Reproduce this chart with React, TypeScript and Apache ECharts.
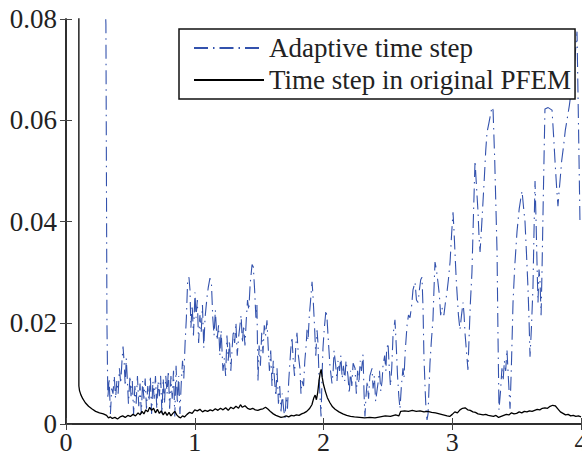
import React, { useEffect, useRef } from "react";
import * as echarts from "echarts";

const xTicks = [0, 1, 2, 3, 4];
const yTicks = [0, 0.02, 0.04, 0.06, 0.08];
const seriesNames = ["Adaptive time step", "Time step in original PFEM"];

const adaptive: [number, number][] = [
  [0.295, 0.09], [0.31, 0.079], [0.318, 0.02], [0.325, 0.005], [0.335, 0.009], [0.345, 0.002], [0.355, 0.007],
  [0.365, 0.006], [0.375, 0.0095], [0.385, 0.005], [0.395, 0.0085], [0.405, 0.006], [0.415, 0.011], [0.425, 0.008],
  [0.435, 0.0125], [0.443, 0.0153], [0.452, 0.012], [0.46, 0.0075], [0.468, 0.013], [0.476, 0.009], [0.485, 0.004],
  [0.497, 0.0095], [0.505, 0.0055], [0.515, 0.0085], [0.525, 0.002], [0.535, 0.0075], [0.545, 0.004], [0.555, 0.0095],
  [0.565, 0.0035], [0.575, 0.008], [0.585, 0.002], [0.595, 0.0085], [0.605, 0.005], [0.615, 0.009], [0.625, 0.003],
  [0.635, 0.0075], [0.645, 0.0045], [0.655, 0.0095], [0.665, 0.002], [0.675, 0.0085], [0.685, 0.005], [0.695, 0.0095],
  [0.705, 0.003], [0.715, 0.0085], [0.725, 0.0055], [0.735, 0.0095], [0.745, 0.002], [0.755, 0.009], [0.765, 0.004],
  [0.775, 0.0095], [0.785, 0.006], [0.795, 0.0105], [0.805, 0.003], [0.815, 0.0095], [0.825, 0.005], [0.835, 0.0105],
  [0.845, 0.0015], [0.855, 0.0115], [0.865, 0.004], [0.875, 0.0095], [0.885, 0.002], [0.895, 0.008], [0.905, 0.0125],
  [0.915, 0.009], [0.925, 0.016], [0.935, 0.021], [0.945, 0.0285], [0.955, 0.029], [0.963, 0.0265], [0.97, 0.019],
  [0.98, 0.0235], [0.99, 0.0175], [1.002, 0.026], [1.01, 0.021], [1.02, 0.0245], [1.03, 0.016], [1.04, 0.0215],
  [1.05, 0.018], [1.06, 0.0235], [1.07, 0.015], [1.08, 0.021], [1.095, 0.025], [1.105, 0.027], [1.118, 0.0288],
  [1.13, 0.0275], [1.14, 0.021], [1.15, 0.0175], [1.16, 0.0225], [1.173, 0.0165], [1.185, 0.0195], [1.195, 0.0135],
  [1.205, 0.0185], [1.219, 0.0105], [1.23, 0.013], [1.24, 0.0095], [1.25, 0.0175], [1.26, 0.0125], [1.27, 0.0165],
  [1.28, 0.0105], [1.289, 0.0145], [1.3, 0.0185], [1.31, 0.016], [1.32, 0.02], [1.33, 0.0135], [1.34, 0.017],
  [1.351, 0.0195], [1.36, 0.0215], [1.37, 0.016], [1.38, 0.0195], [1.39, 0.0155], [1.4, 0.0205], [1.41, 0.0245],
  [1.42, 0.0225], [1.43, 0.0275], [1.445, 0.0315], [1.455, 0.031], [1.465, 0.0265], [1.475, 0.021], [1.483, 0.0235],
  [1.491, 0.0085], [1.5, 0.0155], [1.51, 0.0115], [1.52, 0.018], [1.53, 0.014], [1.54, 0.0195], [1.55, 0.0175],
  [1.561, 0.0205], [1.57, 0.0155], [1.58, 0.0105], [1.59, 0.0145], [1.6, 0.0075], [1.61, 0.0125], [1.62, 0.0085],
  [1.63, 0.0055], [1.639, 0.011], [1.65, 0.004], [1.66, 0.0075], [1.67, 0.0025], [1.68, 0.006], [1.69, 0.003],
  [1.701, 0.0012], [1.71, 0.0055], [1.72, 0.003], [1.73, 0.0085], [1.745, 0.0145], [1.755, 0.0172], [1.765, 0.0125],
  [1.775, 0.0095], [1.785, 0.0155], [1.794, 0.018], [1.805, 0.0135], [1.817, 0.011], [1.825, 0.006], [1.833, 0.0085],
  [1.845, 0.0075], [1.855, 0.0125], [1.865, 0.0155], [1.872, 0.0186], [1.88, 0.0165], [1.89, 0.0215], [1.9, 0.0245],
  [1.911, 0.0281], [1.918, 0.0255], [1.93, 0.0195], [1.94, 0.0135], [1.95, 0.0185], [1.957, 0.016], [1.965, 0.0095],
  [1.975, 0.0045], [1.981, 0.0015], [1.99, 0.0105], [1.996, 0.015], [2.005, 0.0185], [2.019, 0.0225], [2.027, 0.021],
  [2.04, 0.0155], [2.05, 0.0115], [2.066, 0.008], [2.075, 0.0105], [2.082, 0.0145], [2.095, 0.0115], [2.105, 0.0085],
  [2.113, 0.0125], [2.125, 0.0105], [2.135, 0.0135], [2.145, 0.009], [2.155, 0.0115], [2.165, 0.0085], [2.175, 0.0125],
  [2.19, 0.0095], [2.2, 0.006], [2.21, 0.0105], [2.22, 0.0075], [2.23, 0.012], [2.245, 0.011], [2.255, 0.006],
  [2.265, 0.0105], [2.275, 0.008], [2.285, 0.0125], [2.295, 0.0105], [2.307, 0.0137], [2.315, 0.006], [2.322, 0.0015],
  [2.33, 0.0055], [2.34, 0.0085], [2.35, 0.005], [2.36, 0.0095], [2.377, 0.011], [2.385, 0.007], [2.395, 0.0095],
  [2.405, 0.0045], [2.415, 0.0065], [2.423, 0.008], [2.435, 0.0105], [2.445, 0.0065], [2.455, 0.0085], [2.462, 0.0115],
  [2.475, 0.0135], [2.485, 0.0105], [2.49, 0.0145], [2.501, 0.016], [2.51, 0.0115], [2.52, 0.0075], [2.53, 0.011],
  [2.54, 0.0175], [2.555, 0.0206], [2.565, 0.0155], [2.575, 0.0095], [2.585, 0.0055], [2.594, 0.003], [2.605, 0.0075],
  [2.617, 0.011], [2.625, 0.009], [2.635, 0.0145], [2.649, 0.0195], [2.66, 0.0215], [2.672, 0.021], [2.685, 0.0235],
  [2.695, 0.0265], [2.711, 0.028], [2.722, 0.0245], [2.734, 0.024], [2.745, 0.0265], [2.755, 0.0285], [2.765, 0.029],
  [2.773, 0.023], [2.78, 0.0135], [2.79, 0.0065], [2.797, 0.0025], [2.804, 0.0008], [2.812, 0.002], [2.82, 0.0075],
  [2.827, 0.012], [2.838, 0.0165], [2.85, 0.0205], [2.858, 0.0265], [2.866, 0.032], [2.877, 0.0305], [2.889, 0.028],
  [2.9, 0.0255], [2.91, 0.0215], [2.92, 0.023], [2.935, 0.0215], [2.947, 0.024], [2.959, 0.026], [2.97, 0.0285],
  [2.983, 0.032], [2.995, 0.0375], [3.006, 0.0418], [3.014, 0.038], [3.021, 0.034], [3.03, 0.029], [3.037, 0.026],
  [3.048, 0.0215], [3.06, 0.0186], [3.072, 0.0215], [3.084, 0.024], [3.092, 0.0215], [3.099, 0.018], [3.11, 0.0145],
  [3.122, 0.0107], [3.13, 0.0165], [3.14, 0.0235], [3.153, 0.03], [3.165, 0.0415], [3.177, 0.052], [3.188, 0.047],
  [3.2, 0.042], [3.208, 0.037], [3.216, 0.034], [3.228, 0.039], [3.239, 0.044], [3.25, 0.049], [3.26, 0.054],
  [3.27, 0.0576], [3.285, 0.0595], [3.3, 0.0615], [3.309, 0.0626], [3.317, 0.062], [3.33, 0.052], [3.34, 0.042],
  [3.348, 0.034], [3.355, 0.018], [3.363, 0.0028], [3.375, 0.0065], [3.386, 0.011], [3.395, 0.0085], [3.405, 0.0125],
  [3.415, 0.0105], [3.425, 0.0147], [3.435, 0.0095], [3.449, 0.003], [3.46, 0.012], [3.472, 0.024], [3.485, 0.031],
  [3.503, 0.038], [3.52, 0.0425], [3.532, 0.0445], [3.542, 0.046], [3.553, 0.043], [3.565, 0.04], [3.576, 0.034],
  [3.588, 0.027], [3.596, 0.021], [3.604, 0.0133], [3.615, 0.019], [3.627, 0.027], [3.635, 0.038], [3.643, 0.048],
  [3.652, 0.039], [3.66, 0.03], [3.666, 0.024], [3.674, 0.0305], [3.682, 0.028], [3.69, 0.0215], [3.697, 0.03],
  [3.708, 0.046], [3.72, 0.0622], [3.745, 0.0625], [3.775, 0.062], [3.787, 0.057], [3.798, 0.052], [3.81, 0.047],
  [3.821, 0.043], [3.83, 0.046], [3.837, 0.048], [3.85, 0.052], [3.865, 0.055], [3.878, 0.058], [3.891, 0.06],
  [3.91, 0.063], [3.925, 0.066], [3.938, 0.068], [3.955, 0.073], [3.969, 0.0775], [3.98, 0.06], [3.992, 0.04],
];

const original: [number, number][] = [
  [0.1, 0.09], [0.1, 0.0075], [0.105, 0.0066], [0.115, 0.0058], [0.13, 0.005], [0.15, 0.0042], [0.175, 0.0035],
  [0.2, 0.003], [0.23, 0.0025], [0.26, 0.0022], [0.29, 0.002], [0.315, 0.0017], [0.33, 0.0012], [0.345, 0.0014],
  [0.36, 0.0011], [0.38, 0.0013], [0.4, 0.001], [0.42, 0.0014], [0.44, 0.0016], [0.46, 0.0013], [0.48, 0.0017],
  [0.5, 0.0015], [0.52, 0.0019], [0.54, 0.0016], [0.56, 0.0022], [0.575, 0.0018], [0.59, 0.0025], [0.605, 0.002],
  [0.62, 0.0028], [0.635, 0.0024], [0.65, 0.0033], [0.665, 0.0027], [0.68, 0.0031], [0.695, 0.0022], [0.71, 0.0029],
  [0.725, 0.0021], [0.74, 0.0026], [0.755, 0.0018], [0.77, 0.0024], [0.785, 0.0017], [0.8, 0.0023], [0.815, 0.0016],
  [0.83, 0.0021], [0.845, 0.0025], [0.86, 0.0018], [0.875, 0.0014], [0.89, 0.0012], [0.905, 0.0016], [0.92, 0.0014],
  [0.94, 0.0019], [0.96, 0.0023], [0.98, 0.0021], [1.0, 0.0028], [1.02, 0.0026], [1.04, 0.0029], [1.06, 0.0024],
  [1.08, 0.0027], [1.1, 0.0025], [1.12, 0.0028], [1.14, 0.0026], [1.16, 0.003], [1.18, 0.0027], [1.2, 0.0031],
  [1.22, 0.0028], [1.24, 0.0032], [1.26, 0.0027], [1.28, 0.0033], [1.3, 0.003], [1.32, 0.0035], [1.34, 0.0031],
  [1.355, 0.0038], [1.37, 0.0033], [1.39, 0.0036], [1.41, 0.0031], [1.43, 0.0029], [1.45, 0.0031], [1.47, 0.0028],
  [1.49, 0.0027], [1.51, 0.0029], [1.53, 0.003], [1.55, 0.0033], [1.57, 0.0029], [1.59, 0.0024], [1.61, 0.002],
  [1.63, 0.0017], [1.65, 0.0015], [1.67, 0.0013], [1.69, 0.0014], [1.71, 0.0016], [1.73, 0.0014], [1.75, 0.0017],
  [1.77, 0.0016], [1.79, 0.0018], [1.81, 0.0017], [1.83, 0.002], [1.85, 0.0022], [1.87, 0.0025], [1.89, 0.003],
  [1.91, 0.0038], [1.925, 0.0052], [1.935, 0.0057], [1.945, 0.0048], [1.955, 0.0062], [1.965, 0.0085], [1.975, 0.0102],
  [1.982, 0.0108], [1.99, 0.0092], [2.0, 0.0078], [2.015, 0.0064], [2.03, 0.0052], [2.05, 0.0042], [2.07, 0.0034],
  [2.09, 0.0029], [2.12, 0.0024], [2.15, 0.002], [2.18, 0.0017], [2.21, 0.0015], [2.24, 0.0014], [2.28, 0.0013],
  [2.32, 0.0012], [2.36, 0.0013], [2.4, 0.0012], [2.44, 0.0014], [2.48, 0.0016], [2.52, 0.0015], [2.56, 0.0018],
  [2.585, 0.0016], [2.6, 0.0025], [2.63, 0.0026], [2.66, 0.0025], [2.69, 0.0027], [2.72, 0.0025], [2.75, 0.0026],
  [2.78, 0.0024], [2.81, 0.0025], [2.84, 0.0023], [2.87, 0.0022], [2.9, 0.002], [2.93, 0.0018], [2.96, 0.0016],
  [2.98, 0.0015], [3.0, 0.0019], [3.02, 0.0024], [3.04, 0.0022], [3.06, 0.0028], [3.08, 0.0031], [3.1, 0.0032],
  [3.12, 0.0028], [3.14, 0.0027], [3.16, 0.0024], [3.18, 0.0023], [3.2, 0.002], [3.22, 0.0019], [3.24, 0.0018],
  [3.26, 0.0019], [3.28, 0.0017], [3.3, 0.0016], [3.32, 0.0015], [3.34, 0.0017], [3.36, 0.0013], [3.38, 0.0015],
  [3.4, 0.0017], [3.42, 0.0019], [3.44, 0.0018], [3.46, 0.0022], [3.48, 0.002], [3.5, 0.0021], [3.52, 0.0024],
  [3.54, 0.0022], [3.56, 0.0025], [3.58, 0.0024], [3.6, 0.0026], [3.62, 0.0025], [3.64, 0.0027], [3.66, 0.0029],
  [3.68, 0.0028], [3.7, 0.0031], [3.72, 0.0032], [3.74, 0.0031], [3.76, 0.0035], [3.78, 0.0037], [3.8, 0.0036],
  [3.82, 0.003], [3.84, 0.0024], [3.86, 0.0021], [3.88, 0.0018], [3.9, 0.0019], [3.92, 0.0016], [3.94, 0.0017],
  [3.96, 0.0015], [3.98, 0.0016], [4.0, 0.0014],
];

const FONT = "'Times New Roman', Times, 'Liberation Serif', 'DejaVu Serif', serif";
const TEXT = "#222";
const AXIS = "#222";
const BLUE = "#3352ad";

export default function App() {
  const ref = useRef<HTMLDivElement>(null);
  useEffect(() => {
    if (!ref.current) return;
    const chart = echarts.init(ref.current, undefined, { renderer: "svg" });
    const axisLine = { show: true, lineStyle: { color: AXIS, width: 1.5 } };
    const tick = { show: true, inside: true, length: 6, lineStyle: { color: "#444", width: 1 } };
    const xBase = { type: "value", min: xTicks[0], max: xTicks[xTicks.length - 1], interval: 1, splitLine: { show: false } };
    const yBase = { type: "value", min: yTicks[0], max: yTicks[yTicks.length - 1], interval: 0.02, splitLine: { show: false } };
    chart.setOption({
      animation: false,
      backgroundColor: "#fff",
      textStyle: { fontFamily: FONT },
      grid: { left: 66, right: 1, top: 19, bottom: 32, containLabel: false, outerBoundsMode: "none" },
      xAxis: [
        {
          ...xBase,
          position: "bottom",
          axisLine,
          axisTick: tick,
          axisLabel: { show: true, fontFamily: FONT, fontSize: 26, lineHeight: 24, color: TEXT, margin: 6, formatter: (v: number) => String(v) },
        },
        { ...xBase, position: "top", axisLine, axisTick: tick, axisLabel: { show: false } },
      ],
      yAxis: [
        {
          ...yBase,
          position: "left",
          axisLine,
          axisTick: tick,
          axisLabel: {
            show: true,
            fontFamily: FONT,
            fontSize: 27,
            color: TEXT,
            margin: 9,
            formatter: (v: number) => (v === 0 ? "0" : v.toFixed(2)),
          },
        },
        { ...yBase, position: "right", axisLine, axisTick: tick, axisLabel: { show: false } },
      ],
      legend: {
        orient: "vertical",
        left: 179,
        top: 29,
        padding: [4, 4, 4, 14],
        itemGap: 2,
        itemWidth: 70,
        itemHeight: 14,
        borderColor: "#111",
        borderWidth: 1.5,
        backgroundColor: "#fff",
        itemStyle: { color: "transparent", borderWidth: 0, opacity: 0 },
        textStyle: { fontFamily: FONT, fontSize: 27, color: TEXT, lineHeight: 30 },
        data: seriesNames,
      },
      series: [
        {
          name: seriesNames[0],
          type: "line",
          data: adaptive,
          symbol: "none",
          clip: true,
          lineStyle: { color: BLUE, width: 1.1, type: [14, 5, 1.5, 5] },
          itemStyle: { color: BLUE },
          z: 2,
        },
        {
          name: seriesNames[1],
          type: "line",
          data: original,
          symbol: "none",
          clip: true,
          lineStyle: { color: "#000", width: 1.3, type: "solid" },
          itemStyle: { color: "#000" },
          z: 3,
        },
      ],
    });
    return () => chart.dispose();
  }, []);
  return <div ref={ref} style={{ position: "fixed", left: 0, top: 0, width: 582, height: 456 }} />;
}
